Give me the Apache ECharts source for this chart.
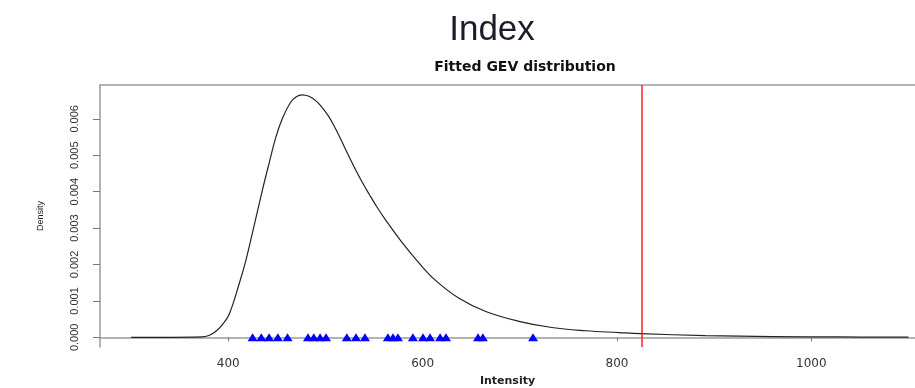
<!DOCTYPE html>
<html>
<head>
<meta charset="utf-8">
<script src="https://cdn.jsdelivr.net/npm/echarts@6/dist/echarts.min.js"></script>
<style>
  html, body { margin: 0; padding: 0; background: #fff; }
  #chart { width: 915px; height: 388px; }
</style>
</head>
<body>
<div id="chart"></div>
<script>
// ---- Data ----
const pageTitle = "Index";
const chartTitle = "Fitted GEV distribution";
const xName = "Intensity";
const yName = "Density";

// fitted GEV density curve (intensity, density)
const curveX = [300, 340, 373, 380, 387, 394, 400.7, 411, 418, 426, 435, 442, 449, 456, 464, 470, 476, 483, 490, 496, 503, 510, 517, 524, 531, 538, 545, 553, 562, 579, 596, 613, 637, 665, 699, 733, 768, 802, 824, 891, 960, 1028, 1100];
const curveY = [0, 0, 0.00001, 0.00005, 0.00016, 0.00035, 0.00062, 0.00145, 0.00210, 0.0030, 0.00403, 0.00478, 0.00550, 0.00603, 0.00645, 0.00661, 0.00666, 0.00662, 0.00650, 0.00633, 0.00608, 0.00575, 0.00537, 0.00498, 0.00460, 0.00425, 0.00393, 0.00358, 0.00322, 0.00260, 0.00205, 0.00157, 0.00108, 0.00071, 0.00044, 0.00027, 0.00018, 0.00013, 0.00010, 0.000047, 0.00002, 0.00001, 0.000005];

// observed maxima shown as a rug of triangles at density 0
const rugValues = [425, 434, 442, 451, 461, 482, 488, 494.5, 500.6, 522, 531.4, 540.7, 564.3, 569.5, 574.6, 590, 600.4, 607.6, 618, 624, 657, 662, 713.6];

// vertical reference line
const refLine = 825;

// axis ticks
const xTicks = [400, 600, 800, 1000];
const yTicks = [0, 0.001, 0.002, 0.003, 0.004, 0.005, 0.006];

// ---- Chart ----
const chart = echarts.init(document.getElementById('chart'), null, { renderer: 'canvas' });

const curveData = curveX.map((x, i) => [x, curveY[i]]);
const rugData = rugValues.map(v => [v, 0]);

const boxLine = { show: true, lineStyle: { color: '#9a9a9a', width: 1.5 } };

const option = {
  backgroundColor: '#ffffff',
  animation: false,
  title: [
    {
      text: pageTitle,
      left: 487, top: 8, textAlign: 'center',
      textStyle: { fontFamily: 'Liberation Sans, Arial, sans-serif', fontSize: 35, fontWeight: 'normal', color: '#1c1c2c' }
    },
    {
      text: chartTitle,
      left: 520, top: 55, textAlign: 'center',
      textStyle: { fontFamily: 'DejaVu Sans, sans-serif', fontSize: 14, fontWeight: 'bold', color: '#111' }
    }
  ],
  grid: {
    left: 100, top: 85, bottom: 41, right: 0,
    show: false,
    containLabel: false,
    outerBoundsMode: 'none'
  },
  xAxis: [
    {
      type: 'value',
      min: 268, max: 1106.7,
      name: xName,
      nameLocation: 'middle',
      nameGap: 29,
      nameTextStyle: { fontFamily: 'DejaVu Sans, sans-serif', fontSize: 11, fontWeight: 'bold', color: '#222' },
      splitLine: { show: false },
      axisLine: boxLine,
      axisTick: { show: true, length: 4, customValues: xTicks, lineStyle: { color: '#777', width: 1 } },
      axisLabel: { customValues: xTicks, margin: 11, formatter: v => String(v), fontFamily: 'DejaVu Sans, sans-serif', fontSize: 12, color: '#333' }
    },
    {
      type: 'value',
      position: 'top',
      min: 268, max: 1106.7,
      splitLine: { show: false },
      axisLine: boxLine,
      axisTick: { show: false },
      axisLabel: { show: false }
    }
  ],
  yAxis: {
    type: 'value',
    min: -0.000266, max: 0.00693,
    name: yName,
    nameLocation: 'middle',
    nameGap: 55,
    nameRotate: 90,
    nameTextStyle: { fontFamily: 'Liberation Sans Narrow, Liberation Sans, Arial, sans-serif', fontSize: 9, color: '#222' },
    splitLine: { show: false },
    axisLine: boxLine,
    axisTick: { show: true, length: 7, customValues: yTicks, lineStyle: { color: '#777', width: 1 } },
    axisLabel: {
      customValues: yTicks, rotate: 90, margin: 20,
      formatter: v => v.toFixed(3),
      fontFamily: 'Liberation Sans Narrow, Liberation Sans, Arial, sans-serif', fontSize: 11, color: '#333'
    }
  },
  series: [
    {
      type: 'line',
      data: curveData,
      showSymbol: false,
      smooth: 0.4,
      lineStyle: { color: '#222', width: 1.2 },
      clip: true,
      markLine: {
        silent: true,
        symbol: 'none',
        label: { show: false },
        lineStyle: { color: '#ff2020', width: 1.5, type: 'solid' },
        data: [{ xAxis: refLine }]
      }
    },
    {
      type: 'scatter',
      data: rugData,
      symbol: 'triangle',
      symbolSize: [10, 8],
      itemStyle: { color: '#0000ff', opacity: 1 }
    }
  ]
};
chart.setOption(option);
</script>
</body>
</html>
